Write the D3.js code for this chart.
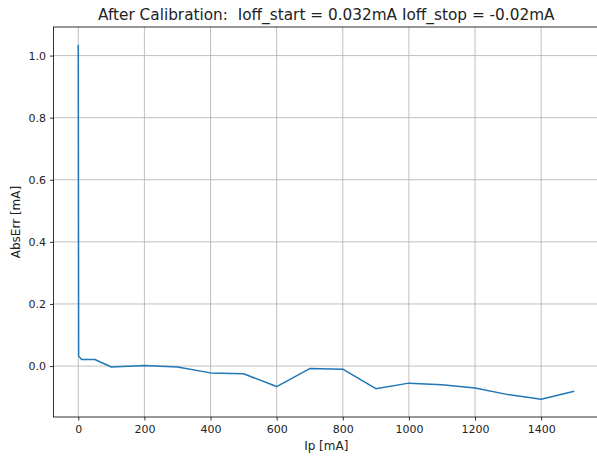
<!DOCTYPE html>
<html>
<head>
<meta charset="utf-8">
<script src="https://cdn.jsdelivr.net/npm/d3@7"></script>
<style>
  body { margin: 0; background: #fff; }
  svg { display: block; font-family: "DejaVu Sans", sans-serif; }
</style>
</head>
<body>
<div id="chart"></div>
<script>
// measured current Ip [mA] and absolute error [mA]
const ipValues = [0, 1, 10, 50, 100, 200, 300, 400, 500, 600, 700, 800, 900, 1000, 1100, 1200, 1300, 1400, 1500];
const absErr = [1.035, 0.032, 0.021, 0.021, -0.003, 0.002, -0.003, -0.022, -0.025, -0.066, -0.008, -0.010, -0.073, -0.055, -0.060, -0.071, -0.092, -0.107, -0.081];
const xTicks = [0, 200, 400, 600, 800, 1000, 1200, 1400];
const yTicks = [0.0, 0.2, 0.4, 0.6, 0.8, 1.0];
const title = "After Calibration:  Ioff_start = 0.032mA Ioff_stop = -0.02mA";

const width = 597, height = 458;
const margin = { top: 27, right: -2, bottom: 41, left: 53.5 };

const svg = d3.select("#chart").append("svg")
    .attr("width", width)
    .attr("height", height);

// matplotlib style 5% padding on the data range
const xExt = d3.extent(ipValues), yExt = d3.extent(absErr);
const xPad = (xExt[1] - xExt[0]) * 0.05, yPad = (yExt[1] - yExt[0]) * 0.05;

const x = d3.scaleLinear()
    .domain([xExt[0] - xPad, xExt[1] + xPad])
    .range([margin.left, width - margin.right]);

const y = d3.scaleLinear()
    .domain([yExt[0] - yPad, yExt[1] + yPad])
    .range([height - margin.bottom, margin.top]);

// grid
svg.append("g")
    .selectAll("line")
    .data(xTicks)
    .join("line")
    .attr("x1", d => x(d)).attr("x2", d => x(d))
    .attr("y1", margin.top).attr("y2", height - margin.bottom)
    .attr("stroke", "#b0b0b0").attr("stroke-width", 0.8);

svg.append("g")
    .selectAll("line")
    .data(yTicks)
    .join("line")
    .attr("x1", margin.left).attr("x2", width - margin.right)
    .attr("y1", d => y(d)).attr("y2", d => y(d))
    .attr("stroke", "#b0b0b0").attr("stroke-width", 0.8);

// data line
const line = d3.line()
    .x((d, i) => x(ipValues[i]))
    .y(d => y(d));

svg.append("path")
    .datum(absErr)
    .attr("fill", "none")
    .attr("stroke", "#1f77b4")
    .attr("stroke-width", 1.5)
    .attr("stroke-linejoin", "round")
    .attr("d", line);

// spines
svg.append("rect")
    .attr("x", margin.left).attr("y", margin.top)
    .attr("width", width - margin.right - margin.left)
    .attr("height", height - margin.bottom - margin.top)
    .attr("fill", "none").attr("stroke", "#000").attr("stroke-width", 0.8);

// axes
const xAxis = svg.append("g")
    .attr("transform", `translate(0,${height - margin.bottom})`)
    .call(d3.axisBottom(x).tickValues(xTicks).tickFormat(d3.format("d")).tickSize(3.5).tickPadding(5));

const yAxis = svg.append("g")
    .attr("transform", `translate(${margin.left},0)`)
    .call(d3.axisLeft(y).tickValues(yTicks).tickFormat(d3.format(".1f")).tickSize(3.5).tickPadding(4));

[xAxis, yAxis].forEach(g => {
    g.select(".domain").remove();
    g.selectAll(".tick line").attr("stroke", "#000").attr("stroke-width", 0.8);
    g.selectAll(".tick text")
        .attr("fill", "#222")
        .style("font-family", "DejaVu Sans")
        .style("font-size", "11px");
});

// labels
const cx = (margin.left + width - margin.right) / 2;

svg.append("text")
    .attr("x", cx).attr("y", 20)
    .attr("text-anchor", "middle")
    .attr("fill", "#222")
    .style("font-size", "15.3px")
    .style("white-space", "pre")
    .text(title);

svg.append("text")
    .attr("x", cx).attr("y", 450)
    .attr("text-anchor", "middle")
    .attr("fill", "#222")
    .style("font-size", "12px")
    .text("Ip [mA]");

svg.append("text")
    .attr("transform", `translate(19.5,${(margin.top + height - margin.bottom) / 2}) rotate(-90)`)
    .attr("text-anchor", "middle")
    .attr("fill", "#222")
    .style("font-size", "12px")
    .text("AbsErr [mA]");
</script>
</body>
</html>
